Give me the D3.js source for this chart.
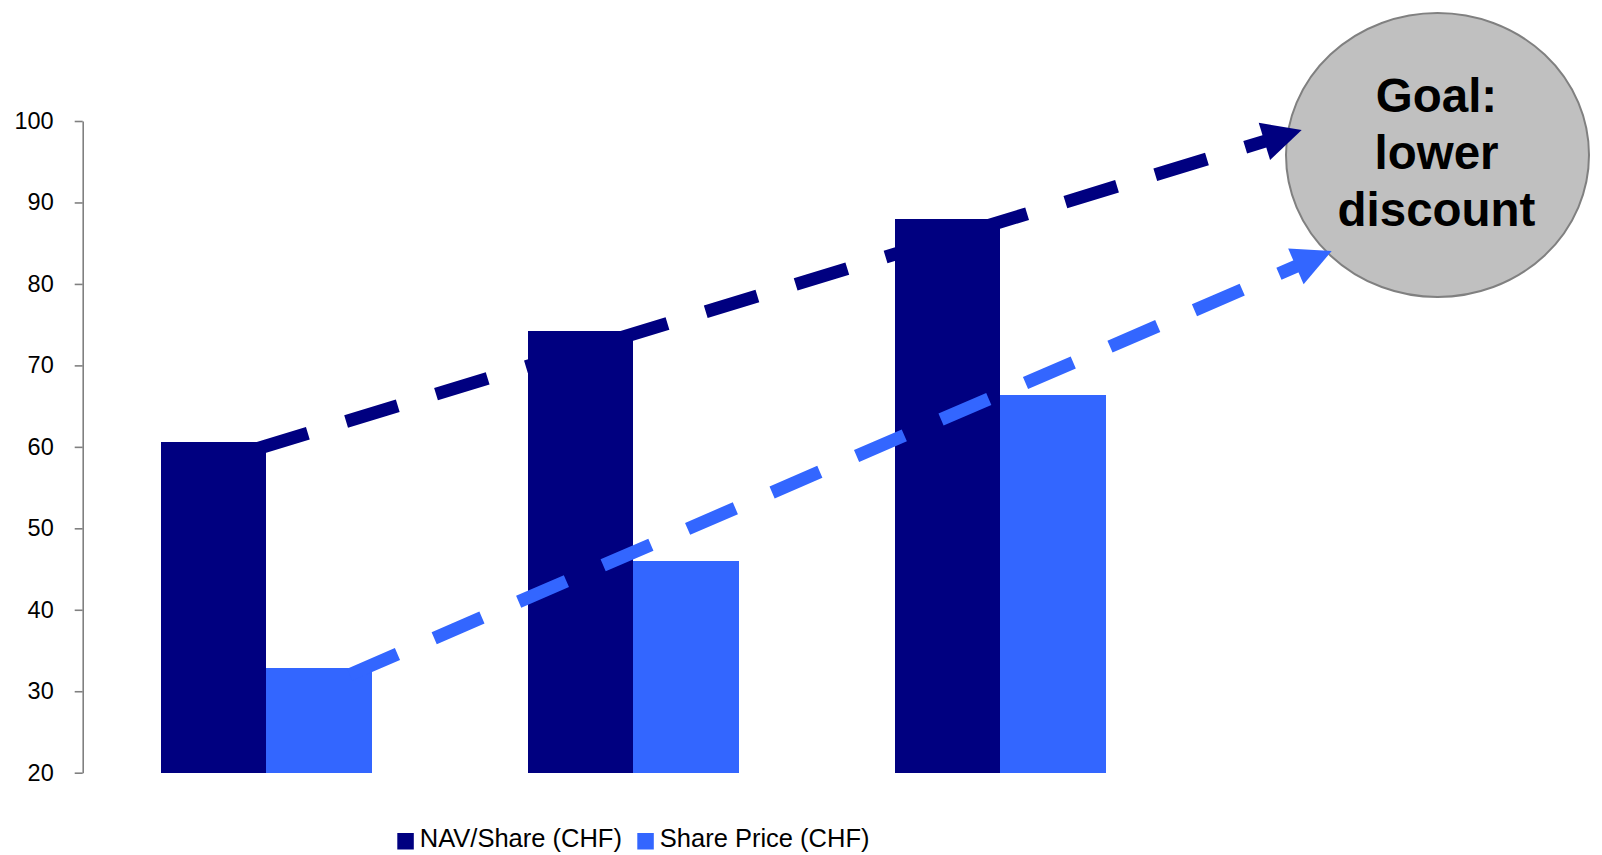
<!DOCTYPE html>
<html>
<head>
<meta charset="utf-8">
<script src="https://cdn.jsdelivr.net/npm/d3@7"></script>
<style>
  html, body { margin: 0; padding: 0; background: #ffffff; }
  svg { display: block; }
  text { font-family: Arial, "Liberation Sans", sans-serif; }
</style>
</head>
<body>
<svg id="chart" width="1602" height="855"></svg>
<script>
// Data
const periods = ["P1", "P2", "P3"];
const seriesNames = ["NAV/Share (CHF)", "Share Price (CHF)"];
const navPerShare = [60.6, 74.2, 88.0];
const sharePrice = [32.9, 46.0, 66.4];
const yTicks = [20, 30, 40, 50, 60, 70, 80, 90, 100];
const goalLines = ["Goal:", "lower", "discount"];

const colors = ["#000080", "#3366FF"];
const seriesValues = [navPerShare, sharePrice];

const svg = d3.select("#chart");
const W = 1602, H = 855;
svg.append("rect").attr("width", W).attr("height", H).attr("fill", "#ffffff");

// Scales
const axisX = 82.7;
const y = d3.scaleLinear().domain([20, 100]).range([772.7, 121]);
const x0 = d3.scaleBand().domain(periods)
  .range([axisX, axisX + 3 * 367])
  .paddingInner(0.425).paddingOuter(0.2125);
const x1 = d3.scaleBand().domain(seriesNames).range([0, x0.bandwidth()]).padding(0);

// Y axis
const yAxis = d3.axisLeft(y).tickValues(yTicks).tickSize(8).tickPadding(21).tickSizeOuter(0);
const gAxis = svg.append("g").attr("transform", `translate(${axisX},0)`).call(yAxis);
gAxis.select(".domain").attr("stroke", "#808080").attr("stroke-width", 1.6);
gAxis.selectAll(".tick line").attr("stroke", "#808080").attr("stroke-width", 1.6);
gAxis.selectAll(".tick text")
  .attr("fill", "#000").attr("font-size", 23.5)
  .attr("font-family", "Arial, 'Liberation Sans', sans-serif");

// Bars
const groups = svg.append("g").selectAll("g")
  .data(periods).join("g")
  .attr("transform", d => `translate(${x0(d)},0)`);
groups.selectAll("rect")
  .data((d, i) => seriesNames.map((s, k) => ({ s, k, v: seriesValues[k][i] })))
  .join("rect")
  .attr("x", d => x1(d.s))
  .attr("width", x1.bandwidth())
  .attr("y", d => y(d.v))
  .attr("height", d => y(20) - y(d.v))
  .attr("fill", d => colors[d.k])
  .attr("shape-rendering", "crispEdges");

// Goal ellipse
const goal = { cx: 1437.5, cy: 155, rx: 151.5, ry: 142 };
svg.append("ellipse")
  .attr("cx", goal.cx).attr("cy", goal.cy)
  .attr("rx", goal.rx).attr("ry", goal.ry)
  .attr("fill", "#C0C0C0").attr("stroke", "#808080").attr("stroke-width", 2);
svg.append("text")
  .attr("x", goal.cx).attr("text-anchor", "middle")
  .attr("font-size", 47.5).attr("font-weight", "bold").attr("fill", "#000")
  .selectAll("tspan").data(goalLines).join("tspan")
  .attr("x", goal.cx - 1)
  .attr("y", (d, i) => 111.7 + i * 57)
  .text(d => d);

// Trend arrows from the first period's bars toward the goal
const trends = [
  { k: 0, dx: -10, dy: 7, tip: [goal.cx - 135.8, goal.cy - 25], dash: "54,40" },
  { k: 1, dx: -22, dy: 7, tip: [goal.cx - 105.8, goal.cy + 96], dash: "52,40" }
];
const headLen = 39, headHalf = 19.5;
trends.forEach(t => {
  const s = seriesNames[t.k];
  const barRight = x0(periods[0]) + x1(s) + x1.bandwidth();
  const start = [barRight + t.dx, y(seriesValues[t.k][0]) + t.dy];
  const [tx, ty] = t.tip;
  const vx = tx - start[0], vy = ty - start[1];
  const len = Math.hypot(vx, vy);
  const ux = vx / len, uy = vy / len;
  const bx = tx - ux * headLen, by = ty - uy * headLen;
  svg.append("line")
    .attr("x1", start[0]).attr("y1", start[1])
    .attr("x2", bx + ux * 6).attr("y2", by + uy * 6)
    .attr("stroke", colors[t.k]).attr("stroke-width", 13)
    .attr("stroke-dasharray", t.dash);
  const px = -uy, py = ux;
  svg.append("path")
    .attr("d", `M${tx},${ty}L${bx + px * headHalf},${by + py * headHalf}L${bx - px * headHalf},${by - py * headHalf}Z`)
    .attr("fill", colors[t.k]);
});

// Legend
const legend = svg.append("g");
const legendX = [397.3, 637.3];
seriesNames.forEach((s, k) => {
  legend.append("rect")
    .attr("x", legendX[k]).attr("y", 833)
    .attr("width", 16.5).attr("height", 16.5)
    .attr("fill", colors[k]);
  legend.append("text")
    .attr("x", legendX[k] + 22.5).attr("y", 847.2)
    .attr("font-size", 25.5).attr("fill", "#000")
    .text(s);
});
</script>
</body>
</html>
